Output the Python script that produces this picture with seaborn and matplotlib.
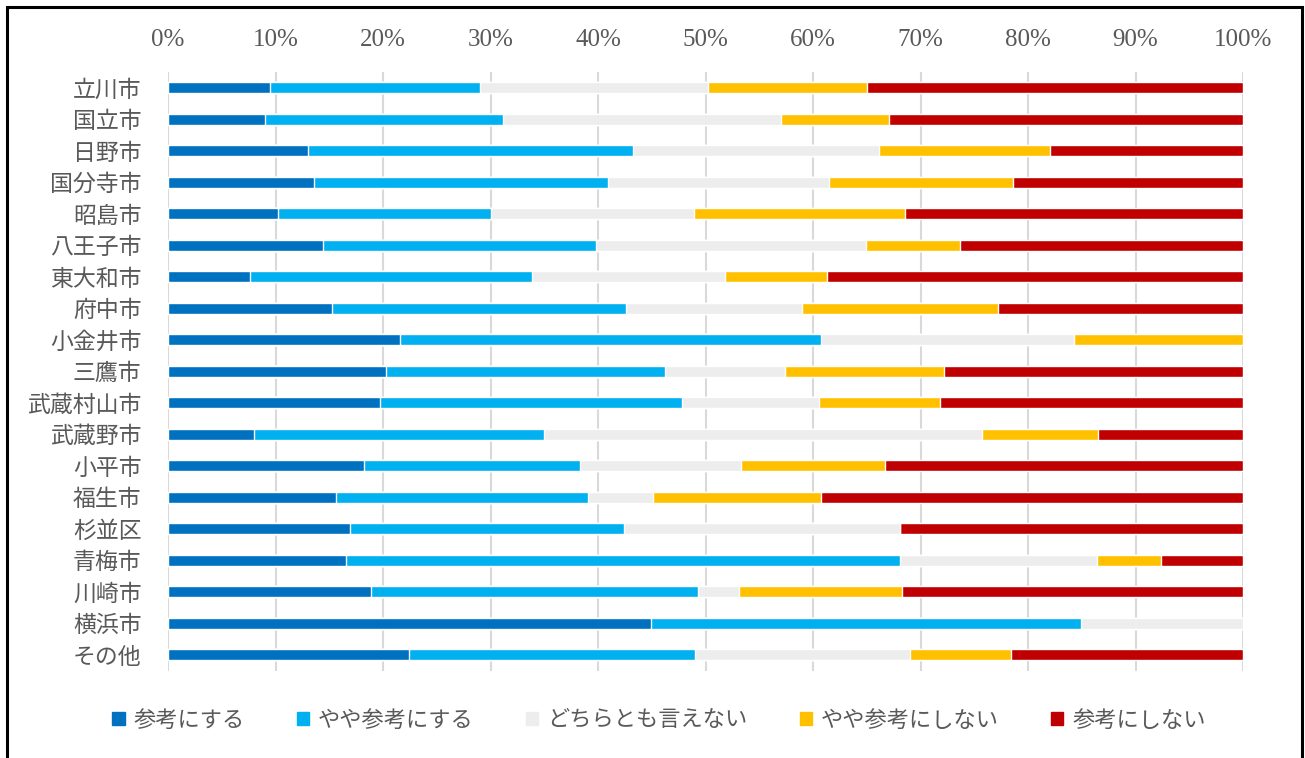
import matplotlib
matplotlib.use("Agg")
import matplotlib.pyplot as plt
import matplotlib.patches as mpatches
import numpy as np
import pandas as pd
import seaborn as sns

# Survey response shares (%) per municipality
cities = ["立川市", "国立市", "日野市", "国分寺市", "昭島市", "八王子市", "東大和市",
          "府中市", "小金井市", "三鷹市", "武蔵村山市", "武蔵野市", "小平市", "福生市",
          "杉並区", "青梅市", "川崎市", "横浜市", "その他"]

sankou_suru = [9.5, 9.0, 13.0, 13.6, 10.2, 14.4, 7.6, 15.3, 21.6, 20.3,
               19.7, 8.0, 18.2, 15.6, 16.9, 16.6, 18.9, 44.9, 22.4]
yaya_sankou_suru = [19.5, 22.2, 30.3, 27.3, 19.8, 25.4, 26.3, 27.3, 39.1, 25.9,
                    28.1, 27.0, 20.1, 23.5, 25.5, 51.5, 30.4, 40.0, 26.6]
dochiramo = [21.2, 25.8, 22.8, 20.6, 18.9, 25.1, 17.9, 16.4, 23.6, 11.2,
             12.8, 40.7, 15.0, 6.0, 25.7, 18.3, 3.8, 15.1, 20.0]
yaya_shinai = [14.8, 10.1, 15.9, 17.1, 19.7, 8.8, 9.5, 18.2, 15.7, 14.8,
               11.2, 10.8, 13.4, 15.6, 0.0, 6.0, 15.2, 0.0, 9.4]
sankou_shinai = [35.0, 32.9, 18.0, 21.4, 31.4, 26.3, 38.7, 22.8, 0.0, 27.8,
                 28.2, 13.5, 33.3, 39.3, 31.9, 7.6, 31.7, 0.0, 21.6]

series_names = ["参考にする", "やや参考にする", "どちらとも言えない", "やや参考にしない", "参考にしない"]
series_values = [sankou_suru, yaya_sankou_suru, dochiramo, yaya_shinai, sankou_shinai]
colors = ["#0070C0", "#00B0F0", "#EDEDED", "#FFC000", "#C00000"]
xticks = [0, 10, 20, 30, 40, 50, 60, 70, 80, 90, 100]
xtick_labels = [f"{v}%" for v in xticks]

sns.set_theme(style="white")
plt.rcParams["font.family"] = ["Noto Sans CJK JP", "DejaVu Sans"]

df = pd.DataFrame({"city": cities})
cum = np.zeros(len(cities))
cum_cols = []
for name, vals in zip(series_names, series_values):
    cum = cum + np.array(vals)
    df[name] = cum
    cum_cols.append(name)

fig = plt.figure(figsize=(13.05, 7.58), dpi=100)
W, H = 1305, 758
ax = fig.add_axes([168 / W, 1 - 670.5 / H, (1243 - 168) / W, (670.5 - 72) / H])

# Stacked bars: draw cumulative totals from the widest segment down
for name, color in reversed(list(zip(cum_cols, colors))):
    sns.barplot(data=df, x=name, y="city", orient="h", color=color,
                width=0.36, edgecolor="white", linewidth=1.0,
                saturation=1, ax=ax, order=cities)

ax.set_xlim(0, 100)
ax.set_xticks(xticks)
ax.set_xticklabels(xtick_labels, family=["Liberation Serif", "DejaVu Serif"],
                   fontsize=18, color="#595959")
ax.xaxis.tick_top()
ax.tick_params(axis="x", length=0, pad=15)
ax.tick_params(axis="y", length=0, pad=19, labelsize=16.5, labelcolor="#595959")
ax.set_xlabel("")
ax.set_ylabel("")
ax.grid(axis="x", color="#D9D9D9", linewidth=1.5)
ax.set_axisbelow(True)
for s in ax.spines.values():
    s.set_visible(False)

handles = [mpatches.Patch(color=c, label=n) for n, c in zip(series_names, colors)]
fig.legend(handles=handles, loc="center", bbox_to_anchor=(659 / W, 1 - 720 / H),
           ncol=5, frameon=False, fontsize=16, handlelength=0.55, handleheight=0.55,
           handletextpad=0.4, columnspacing=2.35, labelcolor="#595959")

# Outer chart border
border = mpatches.Rectangle((7 / W, -0.05), (1302 - 7) / W, 1.05 - 7 / H,
                            transform=fig.transFigure, fill=False,
                            edgecolor="black", linewidth=2.2)
fig.patches.append(border)

fig.savefig("out.png", dpi=100, facecolor="white")
